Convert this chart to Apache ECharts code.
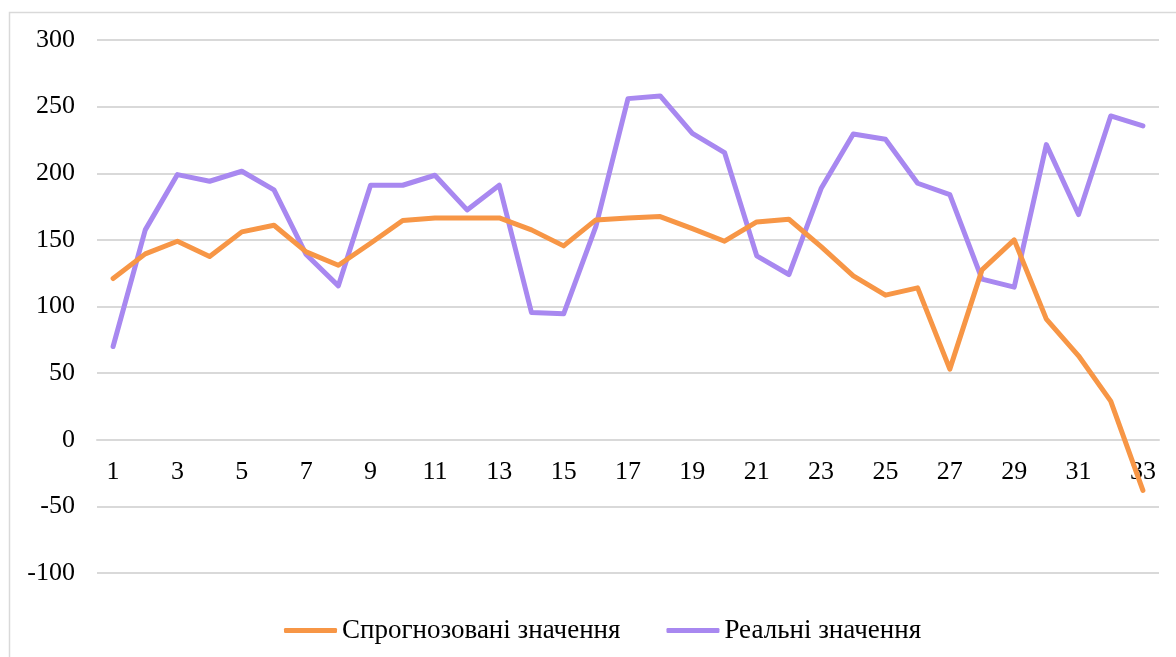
<!DOCTYPE html>
<html>
<head>
<meta charset="utf-8">
<script src="https://cdn.jsdelivr.net/npm/echarts@6/dist/echarts.min.js"></script>
<style>
  html, body { margin: 0; padding: 0; background: #fff; }
  #chart { width: 1176px; height: 657px; }
</style>
</head>
<body>
<div id="chart"></div>
<script>
// Period numbers along the x axis
const categories = Array.from({ length: 33 }, (_, i) => String(i + 1));

// Forecast values
const forecast = [121, 139.5, 149, 137.5, 156, 161, 141, 131, 147.5, 164.5,
  166.5, 166.5, 166.5, 157.5, 145.5, 165, 166.5, 167.5, 158.5, 149,
  163.5, 165.5, 145, 123, 108.5, 114, 53, 127.5, 150, 90.5,
  63, 29, -38];

// Actual values
const actual = [70, 157.5, 199, 194, 201.5, 187.5, 139, 115.5, 191, 191,
  198.5, 172.5, 191, 95.5, 94.5, 160, 256, 258, 230, 215.5,
  138, 124, 188.5, 229.5, 225.5, 192.5, 184, 120.5, 114.5, 221.5,
  169, 243, 235.5];

const seriesNames = ['Спрогнозовані значення', 'Реальні значення'];
const yTicks = { min: -100, max: 300, step: 50 };

const FONT = 'Liberation Serif';
const GRID_COLOR = '#d9d9d9';

// plot area
const GRID = { left: 97, right: 17, top: 40, bottom: 84 };
const plotHeight = 657 - GRID.top - GRID.bottom;
// the category axis sits on the zero line of the value axis
const zeroOffset = -((0 - yTicks.min) / (yTicks.max - yTicks.min)) * plotHeight;

const chart = echarts.init(document.getElementById('chart'), null, { renderer: 'canvas' });

chart.setOption({
  backgroundColor: '#ffffff',
  animation: false,
  textStyle: { fontFamily: FONT },
  graphic: [{
    type: 'rect',
    left: 7, top: 10,
    shape: { x: 0, y: 0, width: 1300, height: 800 },
    style: { fill: 'none', stroke: GRID_COLOR, lineWidth: 1.5 },
    silent: true,
    z: -1
  }],
  grid: Object.assign({ containLabel: false }, GRID),
  legend: {
    left: 279,
    top: 612,
    itemGap: 46,
    itemWidth: 53,
    itemHeight: 5,
    icon: 'roundRect',
    textStyle: { fontFamily: FONT, fontSize: 27, color: '#000' },
    data: seriesNames
  },
  xAxis: {
    type: 'category',
    data: categories,
    boundaryGap: true,
    position: 'bottom',
    offset: zeroOffset,
    axisLine: { show: true, onZero: false, lineStyle: { color: GRID_COLOR, width: 2 } },
    axisTick: { show: false },
    axisLabel: {
      interval: 1,
      margin: 19,
      fontFamily: FONT,
      fontSize: 26,
      color: '#000'
    },
    splitLine: { show: false }
  },
  yAxis: {
    type: 'value',
    min: yTicks.min,
    max: yTicks.max,
    interval: yTicks.step,
    axisLine: { show: false },
    axisTick: { show: false },
    axisLabel: {
      margin: 22,
      fontFamily: FONT,
      fontSize: 26,
      color: '#000'
    },
    splitLine: { show: true, lineStyle: { color: GRID_COLOR, width: 2 } }
  },
  series: [
    {
      name: seriesNames[0],
      type: 'line',
      data: forecast,
      showSymbol: false,
      symbol: 'none',
      color: '#F79646',
      lineStyle: { width: 5, color: '#F79646', cap: 'round', join: 'round' },
      z: 3
    },
    {
      name: seriesNames[1],
      type: 'line',
      data: actual,
      showSymbol: false,
      symbol: 'none',
      color: '#A888F0',
      lineStyle: { width: 5, color: '#A888F0', cap: 'round', join: 'round' },
      z: 2
    }
  ]
});
</script>
</body>
</html>
